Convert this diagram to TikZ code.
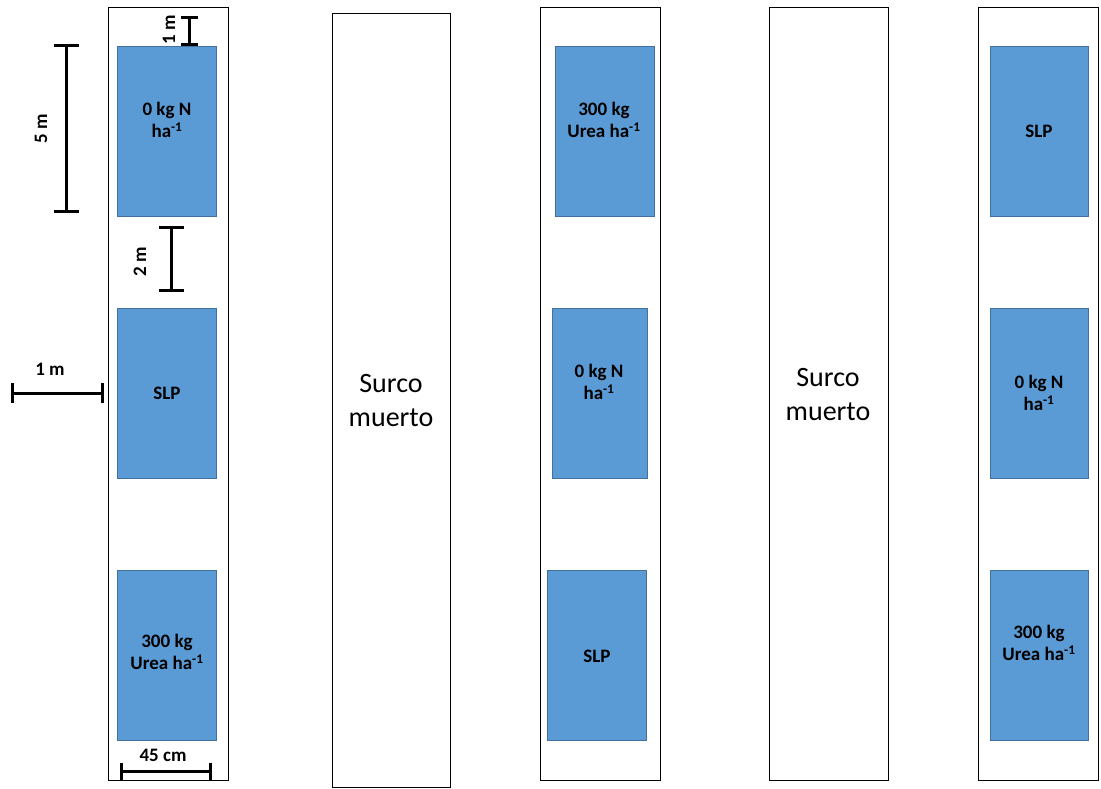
\documentclass[tikz,border=0pt]{standalone}
\usepackage{fontspec}
\setmainfont{Carlito}
\usetikzlibrary{arrows.meta}
\definecolor{plotblue}{HTML}{5B9BD5}
\definecolor{plotedge}{HTML}{41719C}
\tikzset{
  strip/.style={draw=black, line width=1.3pt, fill=white, anchor=north west, inner sep=0pt},
  plot/.style={draw=plotedge, line width=1pt, fill=plotblue, anchor=north west, inner sep=0pt,
    minimum width=99pt, minimum height=170pt, align=center},
  plotlbl/.style={align=center, font=\fontsize{19}{22}\selectfont\bfseries},
  surco/.style={align=center, font=\fontsize{28}{34}\selectfont},
  dimlbl/.style={font=\fontsize{19}{22}\selectfont\bfseries, inner sep=0pt},
  dim/.style={line width=3pt, {Bar[width=25pt,line width=3pt]}-{Bar[width=25pt,line width=3pt]}, shorten <=-1.5pt, shorten >=-1.5pt}
}
\begin{document}
\begin{tikzpicture}[x=1pt,y=-1pt]
\useasboundingbox (0,0) rectangle (1101,788);
% strips
\node[strip, minimum width=120pt, minimum height=773pt] (c1) at (108,7) {};
\node[strip, minimum width=118pt, minimum height=774pt] (c2) at (332,13) {};
\node[strip, minimum width=120pt, minimum height=773pt] (c3) at (540,7) {};
\node[strip, minimum width=119pt, minimum height=773pt] (c4) at (769,7) {};
\node[strip, minimum width=120pt, minimum height=773pt] (c5) at (978,7) {};
% plots column 1
\node[plot] (p11) at (117,46) {};
\node[plotlbl] (t11) at (167,120) {0 kg N\\ha\textsuperscript{-1}};
\node[plot] (p12) at (117,308) {};
\node[plotlbl] (t12) at (167,393) {SLP};
\node[plot] (p13) at (117,570) {};
\node[plotlbl] (t13) at (167,652) {300 kg\\Urea ha\textsuperscript{-1}};
% column 3
\node[plot] (p31) at (555,46) {};
\node[plotlbl] (t31) at (604,120) {300 kg\\Urea ha\textsuperscript{-1}};
\node[plot, minimum width=95pt] (p32) at (552,308) {};
\node[plotlbl] (t32) at (599,382) {0 kg N\\ha\textsuperscript{-1}};
\node[plot] (p33) at (547,570) {};
\node[plotlbl] (t33) at (597,656) {SLP};
% column 5
\node[plot, minimum width=98pt] (p51) at (990,46) {};
\node[plotlbl] (t51) at (1039,131) {SLP};
\node[plot, minimum width=98pt] (p52) at (990,308) {};
\node[plotlbl] (t52) at (1039,393) {0 kg N\\ha\textsuperscript{-1}};
\node[plot, minimum width=98pt] (p53) at (990,570) {};
\node[plotlbl] (t53) at (1039,643) {300 kg\\Urea ha\textsuperscript{-1}};
% surco muerto
\node[surco] (s2) at (391,401) {Surco\\muerto};
\node[surco] (s4) at (828,395) {Surco\\muerto};
% dimensions
\coordinate (d1a) at (189,17); \coordinate (d1b) at (189,44);
\draw[dim, {Bar[width=17pt,line width=3pt]}-{Bar[width=17pt,line width=3pt]}] (d1a) -- (d1b);
\node[dimlbl, rotate=90] (l1) at (169,30) {1 m};
\coordinate (d5a) at (66,45); \coordinate (d5b) at (66,211);
\draw[dim] (d5a) -- (d5b);
\node[dimlbl, rotate=90] (l5) at (41,129) {5 m};
\coordinate (d2a) at (171,227); \coordinate (d2b) at (171,290);
\draw[dim] (d2a) -- (d2b);
\node[dimlbl, rotate=90] (l2) at (140,262) {2 m};
\coordinate (dha) at (12,393); \coordinate (dhb) at (102,393);
\draw[dim, {Bar[width=20pt,line width=3pt]}-{Bar[width=20pt,line width=3pt]}] (dha) -- (dhb);
\node[dimlbl] (lh) at (50,369) {1 m};
\coordinate (dca) at (121,771); \coordinate (dcb) at (210,771);
\draw[dim, {Bar[width=17pt,line width=3pt]}-{Bar[width=17pt,line width=3pt]}] (dca) -- (dcb);
\node[dimlbl] (lc) at (163,755) {45 cm};
\end{tikzpicture}
\end{document}
